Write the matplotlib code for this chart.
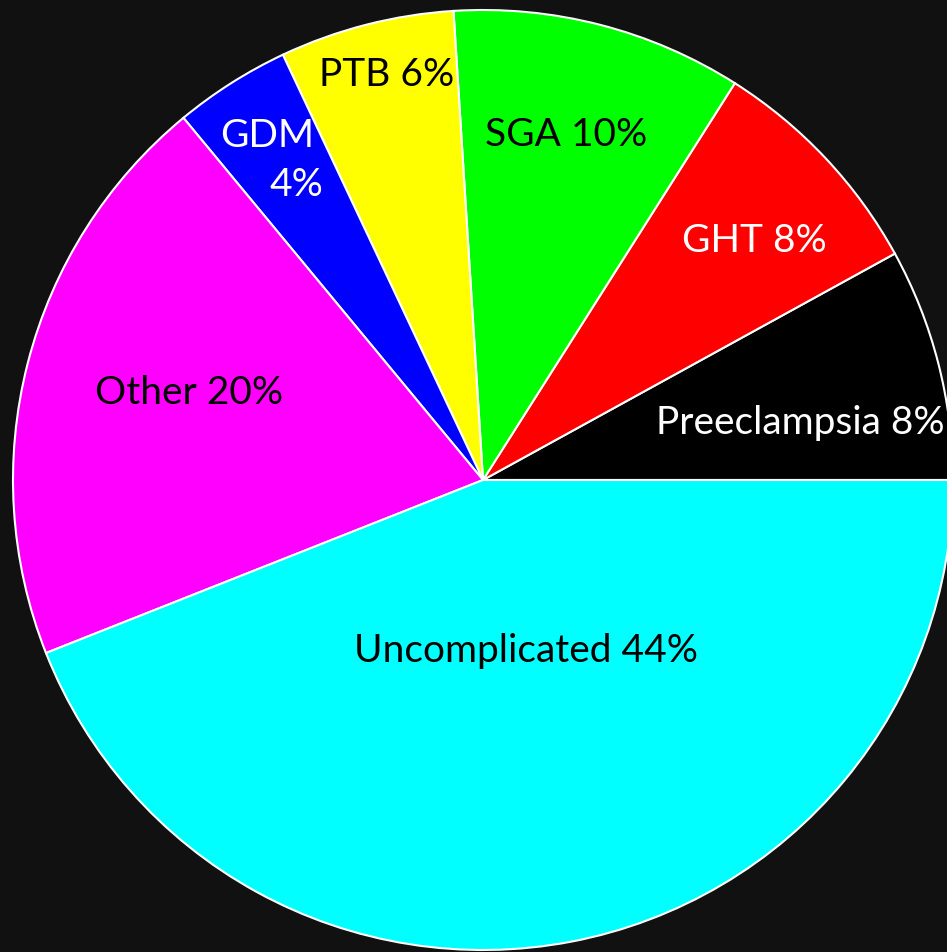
import matplotlib
matplotlib.use("Agg")
import matplotlib.pyplot as plt

# valores (sentido antihorario desde las 3 en punto)
categories = ["Preeclampsia", "GHT", "SGA", "PTB", "GDM", "Other", "Uncomplicated"]
shares = [8, 8, 10, 6, 4, 20, 44]
colors = ["#000000", "#ff0000", "#00ff00", "#ffff00", "#0000ff", "#ff00ff", "#00ffff"]

# etiquetas (GDM ocupa dos lineas desplazadas entre si)
label_text = ["Preeclampsia 8%", "GHT 8%", "SGA 10%", "PTB 6%", "GDM", "4%", "Other 20%",
              "Uncomplicated 44%"]
text_colors = ["white", "white", "black", "black", "white", "white", "black", "black"]
# centro de cada etiqueta en unidades del radio del pastel
label_xy = [(0.676, 0.121), (0.577, 0.509), (0.177, 0.734), (-0.204, 0.862),
            (-0.460, 0.732), (-0.396, 0.628), (-0.626, 0.185), (0.0915, -0.364)]

BG = "#111111"
fig = plt.figure(figsize=(9.47, 9.52), dpi=100, facecolor=BG)
ax = fig.add_axes([0, 0, 1, 1])
ax.set_facecolor(BG)
ax.pie(shares, colors=colors, startangle=0, counterclock=True, radius=1.0,
       wedgeprops=dict(edgecolor="white", linewidth=1.5))
R = 470.0
ax.set_xlim(-483 / R, (947 - 483) / R)
ax.set_ylim(-(952 - 480) / R, 480 / R)
ax.set_aspect("equal")
ax.axis("off")

for txt, col, (x, y) in zip(label_text, text_colors, label_xy):
    ax.text(x, y, txt, color=col, ha="center", va="center",
            fontsize=28, family=["Lato", "DejaVu Sans"])

fig.savefig("out.png", dpi=100, facecolor=BG)
